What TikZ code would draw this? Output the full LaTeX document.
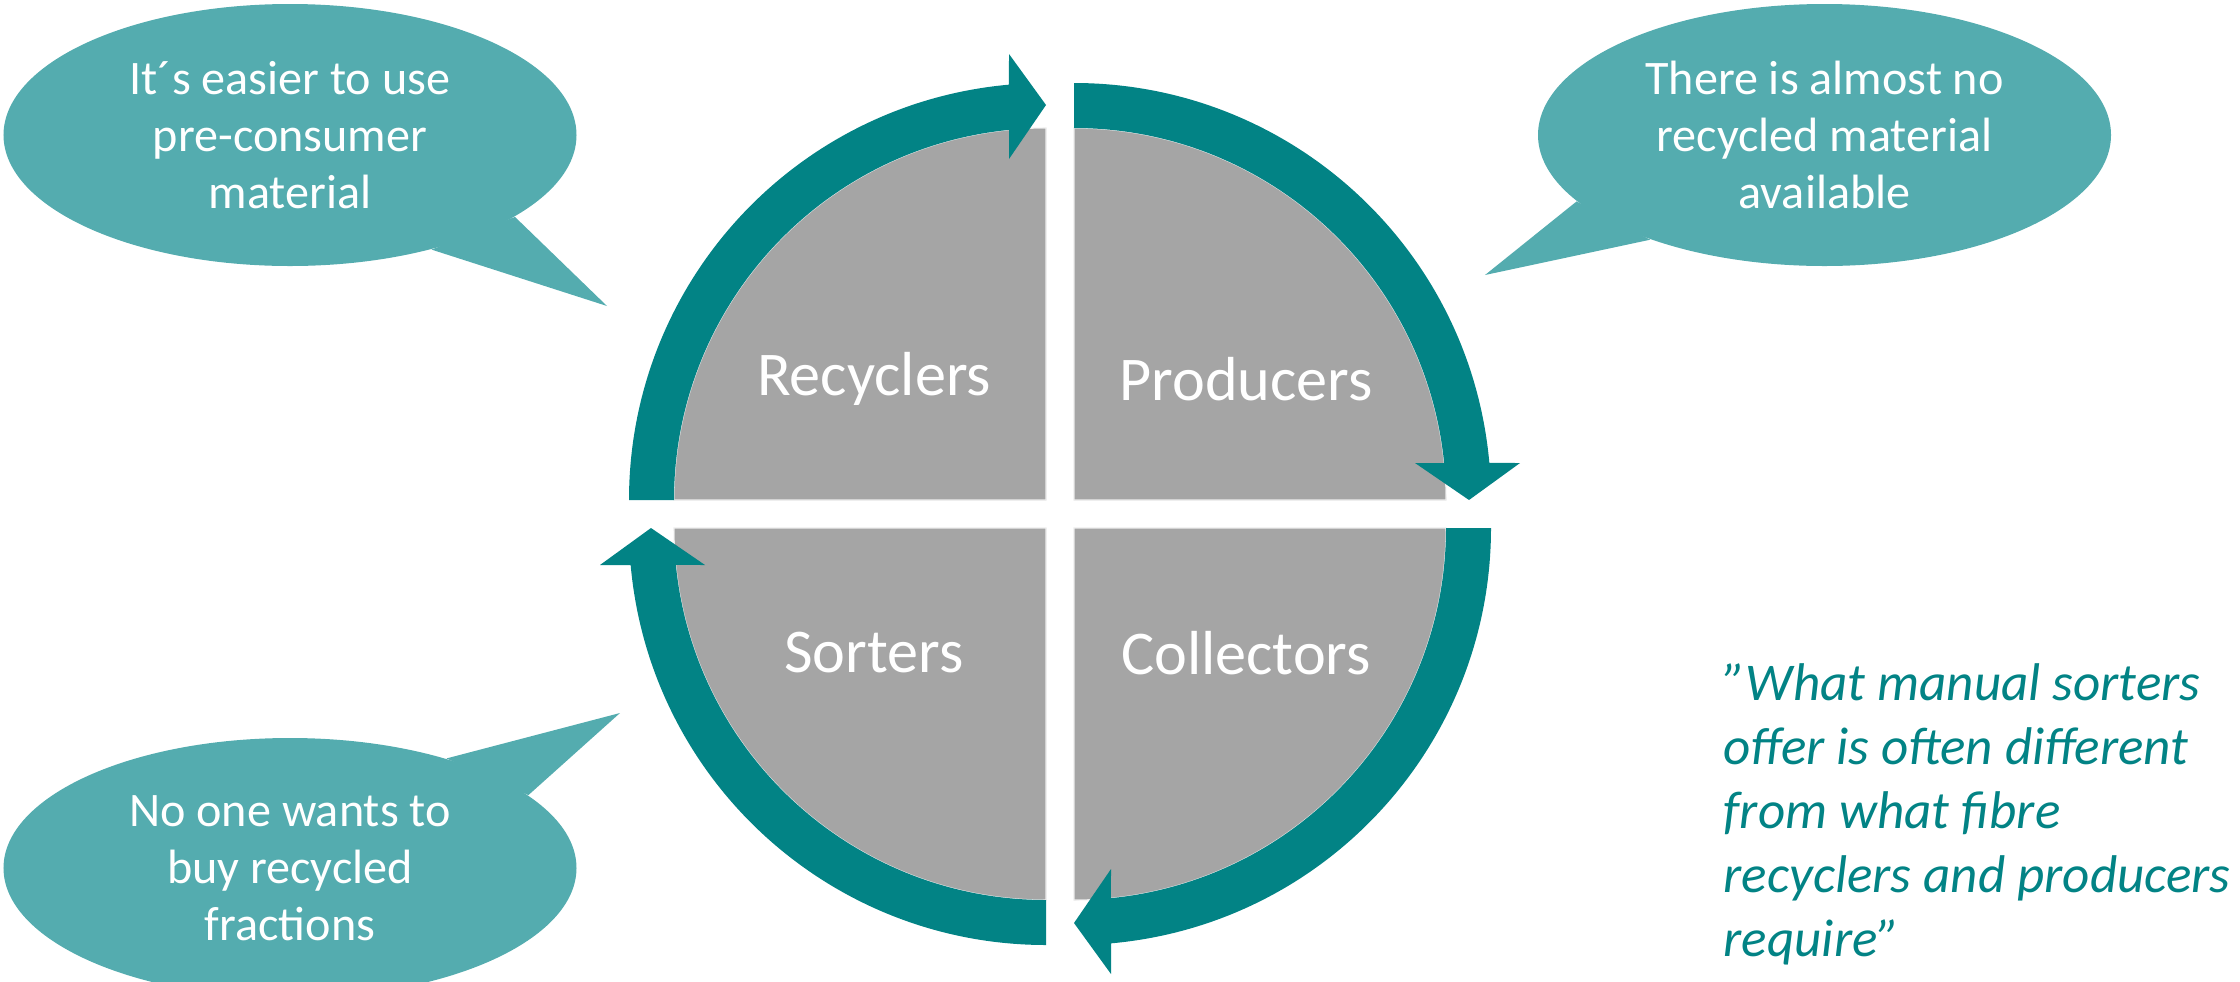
\documentclass[tikz,border=0pt]{standalone}
\usepackage{fontspec}
\setmainfont{Carlito}
\usepackage{tikz}
\usetikzlibrary{shapes.geometric}
\definecolor{ringteal}{RGB}{2,131,133}
\definecolor{bubbleteal}{RGB}{84,172,175}
\definecolor{quartergray}{RGB}{165,165,165}
\newcommand{\ringquarter}{%
  \filldraw[quarter] (0,0) -- (-3.72,0) arc[start angle=180, end angle=90, radius=3.72] -- cycle;
  \fill[ringteal] (-4.17,0) arc[start angle=180, end angle=95.1, radius=4.17]
    -- (-0.37,4.46) -- (0,3.95) -- (-0.37,3.41) -- (95.7:3.72)
    arc[start angle=95.7, end angle=180, radius=3.72] -- cycle;
}

\begin{document}
\begin{tikzpicture}[
    bubble/.style={ellipse,fill=bubbleteal,text=white,inner sep=0pt,align=center,
      minimum width=5.73cm,minimum height=2.62cm,
      font=\fontsize{13.7}{16.2}\selectfont},
    quarter/.style={fill=quartergray,draw=white!85!gray,line width=0.3pt},
    quarterlabel/.style={text=white,font=\fontsize{17.7}{21}\selectfont}
    ]
    \useasboundingbox (0,0) rectangle (22.40,-9.81);
    \clip (0,0) rectangle (22.40,-9.81);
    % speech bubbles
    \node[bubble] (easier) at (2.90,-1.35) {It´s easier to use\\pre-consumer\\material};
    \fill[bubbleteal] (easier.-20.1) -- (6.07,-3.06) -- (easier.-39.1) -- cycle;
    \node[bubble] (nomaterial) at (18.245,-1.35) {There is almost no\\recycled material\\available};
    \fill[bubbleteal] (nomaterial.195.3) -- (14.85,-2.75) -- (nomaterial.211.2) -- cycle;
    \node[bubble,minimum height=2.60cm] (nobuyer) at (2.90,-8.68) {No one wants to\\buy recycled\\fractions};
    \fill[bubbleteal] (nobuyer.35) -- (6.20,-7.13) -- (nobuyer.17.7) -- cycle;
    % ring
    \begin{scope}[shift={(10.60,-5.14)}]
      \begin{scope}[shift={(-0.14,0.14)}] \ringquarter \end{scope}
      \begin{scope}[rotate=-90,shift={(-0.14,0.14)}] \ringquarter \end{scope}
      \begin{scope}[rotate=-180,shift={(-0.14,0.14)}] \ringquarter \end{scope}
      \begin{scope}[rotate=-270,shift={(-0.14,0.14)}] \ringquarter \end{scope}
    \end{scope}
    \node[quarterlabel] (recyclers) at (8.74,-3.79) {Recyclers};
    \node[quarterlabel] (producers) at (12.46,-3.79) {Producers};
    \node[quarterlabel] (sorters) at (8.74,-6.53) {Sorters};
    \node[quarterlabel] (collectors) at (12.46,-6.53) {Collectors};
    % quote
    \node[anchor=west,inner sep=0pt,align=left,text=ringteal,font=\itshape\fontsize{15.1}{18.2}\selectfont] (quote) at (17.23,-8.145) {”What manual sorters\\offer is often different\\from what fibre\\recyclers and producers\\require”};
\end{tikzpicture}
\end{document}
